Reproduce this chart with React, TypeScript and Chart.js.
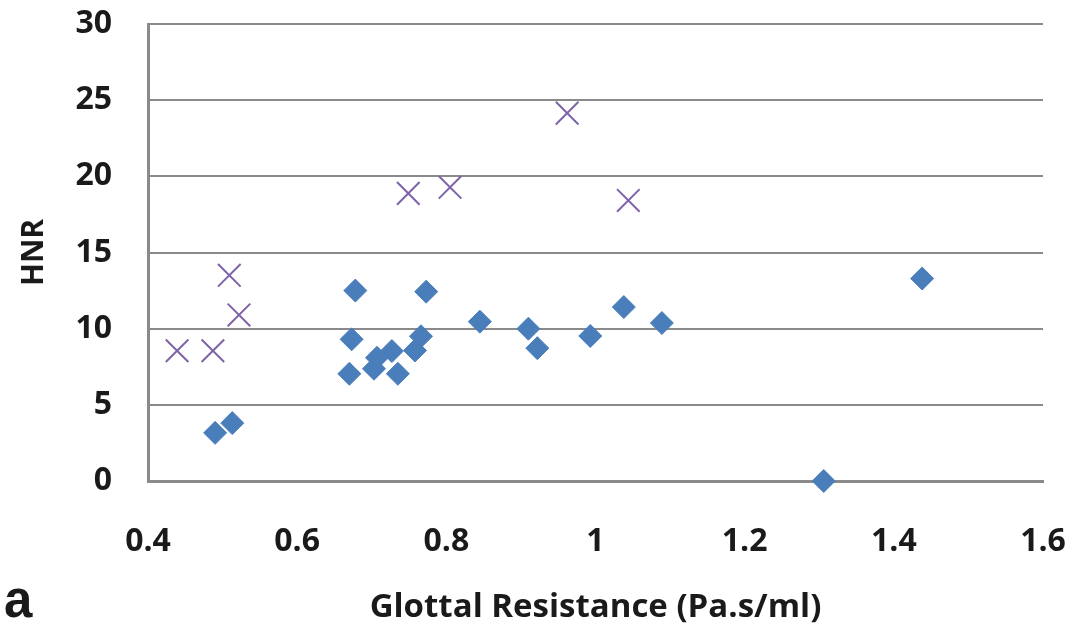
import React, { useEffect, useRef } from "react";
import { Chart, registerables } from "chart.js";

Chart.register(...registerables);

const diamondX = [0.490, 0.513, 0.670, 0.673, 0.678, 0.703, 0.707, 0.727, 0.735, 0.758, 0.766, 0.773, 0.845, 0.910, 0.922, 0.993, 1.038, 1.089, 1.438, 1.306];
const diamondY = [3.16, 3.8, 7.04, 9.3, 12.5, 7.37, 8.09, 8.53, 7.04, 8.57, 9.5, 12.43, 10.46, 10.0, 8.72, 9.52, 11.42, 10.37, 13.29, 0];
const crossX = [0.439, 0.487, 0.509, 0.522, 0.749, 0.805, 0.962, 1.044];
const crossY = [8.55, 8.55, 13.5, 10.9, 18.88, 19.28, 24.15, 18.42];
const yTicks = [0, 5, 10, 15, 20, 25, 30];
const xTicks = [0.4, 0.6, 0.8, 1, 1.2, 1.4, 1.6];

const FONT = "'Open Sans'";

export default function App() {
  const ref = useRef<HTMLCanvasElement>(null);
  useEffect(() => {
    document.body.style.margin = "0";
    const ctx = ref.current!;
    const chart = new Chart(ctx, {
      type: "scatter",
      data: {
        datasets: [
          {
            label: "Diamonds",
            data: diamondX.map((x, i) => ({ x, y: diamondY[i] })),
            pointStyle: "rectRot",
            pointRadius: 11.5,
            borderWidth: 1,
            backgroundColor: "#4a7ebb",
            borderColor: "#4a7ebb",
            clip: false,
          },
          {
            label: "Crosses",
            data: crossX.map((x, i) => ({ x, y: crossY[i] })),
            pointStyle: "crossRot",
            pointRadius: 16,
            borderWidth: 2,
            backgroundColor: "#7f63a8",
            borderColor: "#7f63a8",
            clip: false,
          },
        ],
      },
      options: {
        animation: false,
        responsive: false,
        layout: { padding: { left: 0, top: 24, right: 34, bottom: 0 } },
        plugins: { legend: { display: false }, tooltip: { enabled: false } },
        scales: {
          x: {
            type: "linear",
            min: 0.4,
            max: 1.6,
            afterBuildTicks: (s: any) => {
              s.ticks = xTicks.map((v) => ({ value: v }));
            },
            afterFit: (s: any) => {
              s.height = 156;
              s.paddingLeft = 0;
              s.paddingRight = 0;
            },
            grid: { display: false, drawTicks: false },
            border: { display: true, color: "#8a8a8a", width: 3 },
            ticks: {
              padding: 42,
              color: "#1a1a1a",
              font: { family: FONT, size: 32, weight: "bold" },
              callback: (v: any) => String(v),
              maxRotation: 0,
            },
            title: {
              display: true,
              text: "Glottal Resistance (Pa.s/ml)",
              color: "#1a1a1a",
              font: { family: FONT, size: 33, weight: "bold" },
              padding: { top: 0, bottom: 10 },
            },
          },
          y: {
            type: "linear",
            min: 0,
            max: 30,
            afterBuildTicks: (s: any) => {
              s.ticks = yTicks.map((v) => ({ value: v }));
            },
            afterFit: (s: any) => {
              s.width = 148;
              s.paddingTop = 0;
              s.paddingBottom = 0;
            },
            grid: { color: "#8a8a8a", lineWidth: 2, drawTicks: false },
            border: { display: true, color: "#8a8a8a", width: 3 },
            ticks: {
              padding: 36,
              color: "#1a1a1a",
              font: { family: FONT, size: 32, weight: "bold" },
            },
            title: {
              display: true,
              text: "HNR",
              color: "#1a1a1a",
              font: { family: FONT, size: 30, weight: "bold" },
              padding: { top: 16, bottom: 0 },
            },
          },
        },
      },
    });
    return () => chart.destroy();
  }, []);
  return (
    <div style={{ position: "relative", width: 1077, height: 637 }}>
      <canvas ref={ref} width={1077} height={637} />
      <div
        style={{
          position: "absolute",
          left: 4,
          top: 570,
          fontFamily: "'Liberation Sans'",
          fontWeight: "bold",
          fontSize: 51,
          lineHeight: "60px",
          color: "#1a1a1a",
        }}
      >
        a
      </div>
    </div>
  );
}
